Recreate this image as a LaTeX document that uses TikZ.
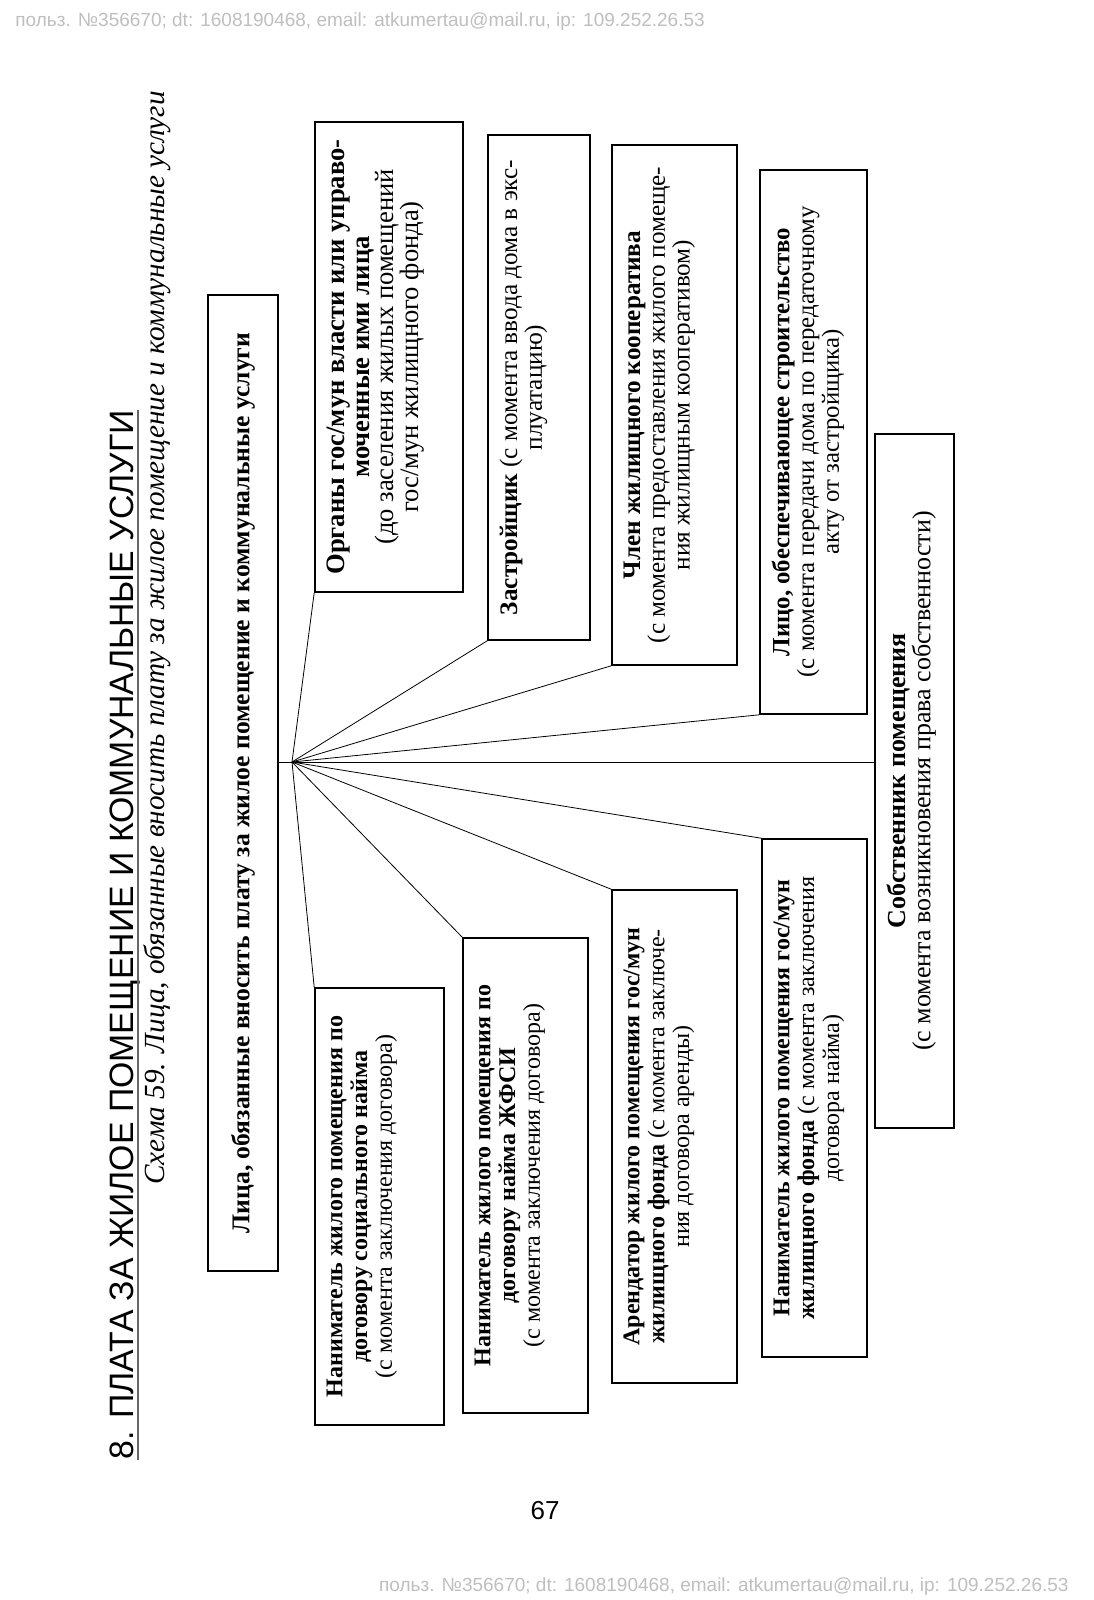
\documentclass[tikz,border=0pt]{standalone}
\usepackage{fontspec}
\setmainfont{Liberation Serif}
\setsansfont{Liberation Sans}
\usetikzlibrary{positioning}
\tikzset{frame/.style={draw, thick, rotate=90, inner sep=0pt},
  txt/.style={rotate=90, anchor=north, align=center, inner xsep=0pt, inner ysep=6pt,
    font=\fontsize{12}{12.4}\selectfont},
  wm/.style={font=\sffamily\fontsize{9.5}{11}\selectfont, text=black!25, inner sep=0pt}}
\begin{document}
\begin{tikzpicture}[x=0.5pt, y=-0.5pt]
  \path[use as bounding box, fill=white] (0,0) rectangle (1093,1600);
  % watermarks and page number
  \node[wm, anchor=west] (wmtop) at (15,22) {польз. №356670; dt: 1608190468, email: atkumertau@mail.ru, ip: 109.252.26.53};
  \node[wm, anchor=east] (wmbot) at (1069,1587) {польз. №356670; dt: 1608190468, email: atkumertau@mail.ru, ip: 109.252.26.53};
  \node[font=\sffamily\fontsize{13}{15}\selectfont] (pnum) at (545,1511) {67};
  % title and caption
  \node[rotate=90, anchor=base west, inner sep=0pt, font=\sffamily\fontsize{16.9}{20}\selectfont] (title) at (133,1460) {8. ПЛАТА ЗА ЖИЛОЕ ПОМЕЩЕНИЕ И КОММУНАЛЬНЫЕ УСЛУГИ};
  \draw[black!60, line width=1pt] ([xshift=2.5pt]title.base west) -- ([xshift=2.5pt]title.base east);
  \node[rotate=90, anchor=base west, inner sep=0pt, font=\itshape\fontsize{14.6}{16}\selectfont] (sub) at (164,1185) {Схема 59. Лица, обязанные вносить плату за жилое помещение и коммунальные услуги};
  % root
  \node[frame, minimum width=488pt, minimum height=35pt, font=\bfseries\fontsize{12.8}{13}\selectfont] (main) at (243,783) {Лица, обязанные вносить плату за жилое помещение и коммунальные услуги};
  % upper boxes
  \node[frame, minimum width=235pt, minimum height=74pt] (b1) at (389,357) {};
  \node[frame, minimum width=252.5pt, minimum height=51pt] (b2) at (539,387.5) {};
  \node[frame, minimum width=260pt, minimum height=62.5pt] (b3) at (674.5,405) {};
  \node[frame, minimum width=272pt, minimum height=53.5pt] (b4) at (813.5,442) {};
  \node[frame, minimum width=347pt, minimum height=39.5pt] (b5) at (914.5,781) {};
  % lower boxes
  \node[frame, minimum width=218.5pt, minimum height=64.5pt] (b6) at (379.5,1206.5) {};
  \node[frame, minimum width=237.5pt, minimum height=62.5pt] (b7) at (525.5,1175.5) {};
  \node[frame, minimum width=246.5pt, minimum height=62.5pt] (b8) at (674.5,1136.5) {};
  \node[frame, minimum width=259pt, minimum height=52.5pt] (b9) at (814.5,1098) {};
  % box texts
  \node[txt, font=\fontsize{13.3}{12.4}\selectfont] (t1) at (b1.north) {\textbf{Органы гос/мун власти или управо-}\\\textbf{моченные ими лица}\\(до заселения жилых помещений\\гос/мун жилищного фонда)};
  \node[txt, font=\fontsize{12.6}{12.4}\selectfont] (t2) at (b2.north) {\textbf{Застройщик} (с момента ввода дома в экс-\\плуатацию)};
  \node[txt, font=\fontsize{12.6}{12.4}\selectfont] (t3) at (b3.north) {\textbf{Член жилищного кооператива}\\(с момента предоставления жилого помеще-\\ния жилищным кооперативом)};
  \node[txt, font=\fontsize{12.4}{12.4}\selectfont] (t4) at (b4.north) {\textbf{Лицо, обеспечивающее строительство}\\(с момента передачи дома по передаточному\\акту от застройщика)};
  \node[txt, font=\fontsize{13}{12.6}\selectfont] (t5) at (b5.north) {\textbf{Собственник помещения}\\(с момента возникновения права собственности)};
  \node[txt] (t6) at (b6.north) {\textbf{Наниматель жилого помещения по}\\\textbf{договору социального найма}\\(с момента заключения договора)};
  \node[txt] (t7) at (b7.north) {\textbf{Наниматель жилого помещения по}\\\textbf{договору найма ЖФСИ}\\(с момента заключения договора)};
  \node[txt] (t8) at (b8.north) {\textbf{Арендатор жилого помещения гос/мун}\\\textbf{жилищного фонда} (с момента заключе-\\ния договора аренды)};
  \node[txt] (t9) at (b9.north) {\textbf{Наниматель жилого помещения гос/мун}\\\textbf{жилищного фонда} (с момента заключения\\договора найма)};
  % spokes
  \coordinate (hub) at (292,762);
  \draw (hub -| main.south) -- (hub);
  \foreach \b in {b1,b2,b3,b4} \draw (hub) -- (\b.north west);
  \foreach \b in {b6,b7,b8,b9} \draw (hub) -- (\b.north east);
  \draw (hub) -- (hub -| b5.north);
\end{tikzpicture}
\end{document}
